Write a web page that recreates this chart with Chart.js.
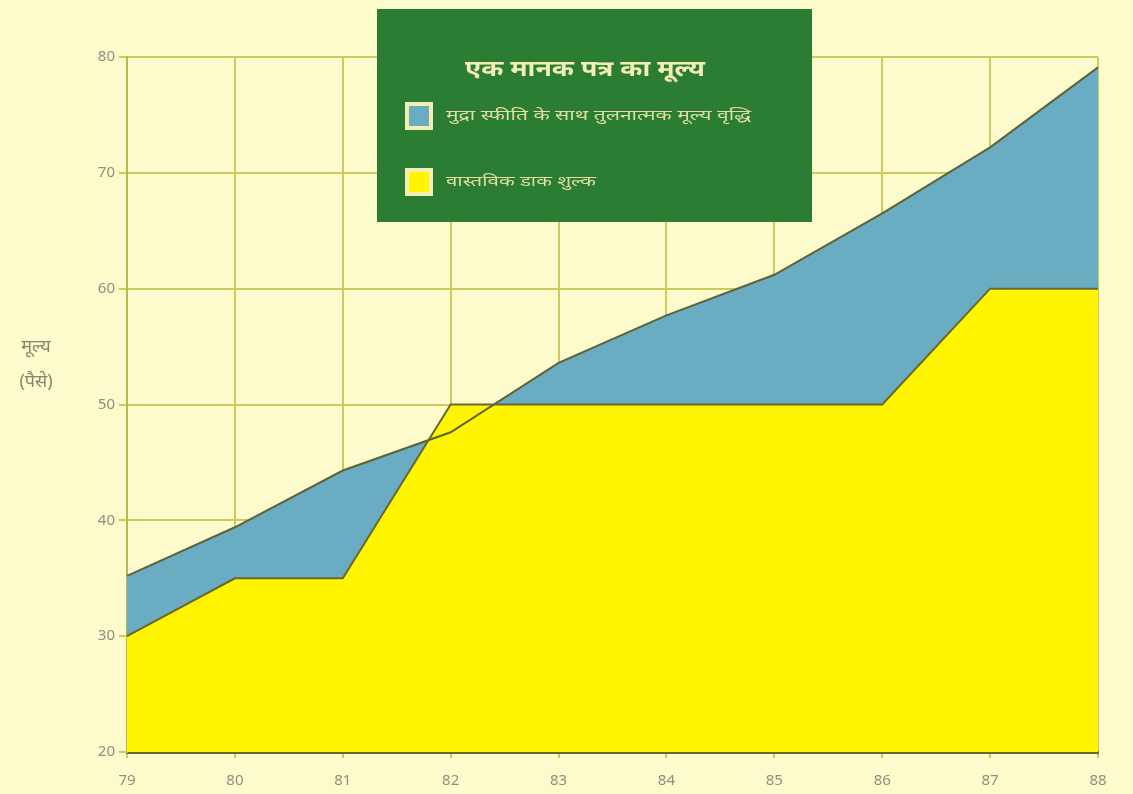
<!DOCTYPE html>
<html>
<head>
<meta charset="utf-8">
<title>एक मानक पत्र का मूल्य</title>
<script src="https://cdn.jsdelivr.net/npm/chart.js@4.4.1/dist/chart.umd.min.js"></script>
<style>
  html, body { margin: 0; padding: 0; background: #fdfbcb; }
  #wrap { width: 1133px; height: 794px; position: relative; }
</style>
</head>
<body>
<div id="wrap"><canvas id="chart" width="1133" height="794"></canvas></div>
<script>
// वर्ष (19xx)
const years = ['79', '80', '81', '82', '83', '84', '85', '86', '87', '88'];
// मुद्रा स्फीति के साथ तुलनात्मक मूल्य
const inflationValues = [35.2, 39.4, 44.3, 47.6, 53.6, 57.7, 61.2, 66.5, 72.2, 79.1];
// वास्तविक डाक शुल्क (पैसे)
const postageValues = [30, 35, 35, 50, 50, 50, 50, 50, 60, 60];
const yTicks = [20, 30, 40, 50, 60, 70, 80];

const chartTitle = 'एक मानक पत्र का मूल्य';
const yTitle = ['मूल्य', '(पैसे)'];

const FONT = '"Noto Sans", "DejaVu Sans", sans-serif';

// दी गई चौड़ाई में खिंचा हुआ टेक्स्ट
function drawStretched(ctx, text, x, y, width, align) {
  const w = ctx.measureText(text).width;
  const k = width / w;
  ctx.save();
  ctx.translate(align === 'center' ? x - width / 2 : x, y);
  ctx.scale(k, 1);
  ctx.textAlign = 'left';
  ctx.fillText(text, 0, 0);
  ctx.restore();
}

// हरा बॉक्स जिसमें शीर्षक और लेजेंड है
const legendBox = {
  id: 'legendBox',
  afterDraw(chart) {
    const ctx = chart.ctx;
    const x = 377, y = 9, w = 435, h = 213;
    ctx.save();
    ctx.fillStyle = '#2b7d34';
    ctx.fillRect(x, y, w, h);
    ctx.fillStyle = '#f2eeb4';
    ctx.font = 'bold 22px ' + FONT;
    ctx.textBaseline = 'middle';
    drawStretched(ctx, chartTitle, 585, 70, 240, 'center');

    const rows = [116, 182];
    const widths = [305, 150];
    chart.data.datasets.forEach((ds, i) => {
      const ry = rows[i];
      ctx.fillStyle = '#f2eeb4';
      ctx.fillRect(405, ry - 14, 28, 28);
      ctx.fillStyle = ds.backgroundColor;
      ctx.fillRect(409, ry - 10, 20, 20);
      ctx.fillStyle = '#e2dea2';
      ctx.font = '14px ' + FONT;
      drawStretched(ctx, ds.label, 446, ry, widths[i], 'left');
    });
    ctx.restore();
  }
};

// बाईं ओर का अक्ष शीर्षक, सीधा लिखा हुआ
const yAxisTitle = {
  id: 'yAxisTitle',
  afterDraw(chart) {
    const ctx = chart.ctx;
    ctx.save();
    ctx.fillStyle = '#8a8470';
    ctx.font = '18px ' + FONT;
    ctx.textAlign = 'center';
    ctx.textBaseline = 'middle';
    ctx.fillText(yTitle[0], 36, 347);
    ctx.fillText(yTitle[1], 36, 382);
    ctx.restore();
  }
};

const ctx = document.getElementById('chart').getContext('2d');
new Chart(ctx, {
  type: 'line',
  data: {
    labels: years,
    datasets: [
      {
        label: 'मुद्रा स्फीति के साथ तुलनात्मक मूल्य वृद्धि',
        data: inflationValues,
        backgroundColor: '#6aacc2',
        borderColor: '#5e6238',
        borderWidth: 2,
        fill: 'start',
        pointRadius: 0,
        tension: 0,
        order: 1
      },
      {
        label: 'वास्तविक डाक शुल्क',
        data: postageValues,
        backgroundColor: '#fff500',
        borderColor: '#6b6630',
        borderWidth: 2,
        fill: 'start',
        pointRadius: 0,
        tension: 0,
        order: 0
      }
    ]
  },
  options: {
    responsive: false,
    animation: false,
    layout: { padding: { top: 57, right: 35, left: 0, bottom: 0 } },
    plugins: {
      legend: { display: false },
      tooltip: { enabled: false },
      filler: { drawTime: 'beforeDatasetsDraw' }
    },
    scales: {
      x: {
        type: 'category',
        offset: false,
        grid: { color: '#c9cb5c', lineWidth: 2, tickLength: 6 },
        border: { color: '#6b6630', width: 3 },
        ticks: { color: '#8f8f80', font: { family: FONT, size: 15 }, padding: 14, maxRotation: 0 },
        afterFit(scale) { scale.height = 42; }
      },
      y: {
        min: 20,
        max: 80,
        afterBuildTicks(scale) { scale.ticks = yTicks.map(v => ({ value: v })); },
        grid: { color: '#c9cb5c', lineWidth: 2, tickLength: 8 },
        border: { color: '#b8ba50', width: 2 },
        ticks: { color: '#8f8f80', font: { family: FONT, size: 15 }, padding: 4 },
        afterFit(scale) { scale.width = 127; }
      }
    }
  },
  plugins: [legendBox, yAxisTitle]
});
</script>
</body>
</html>
